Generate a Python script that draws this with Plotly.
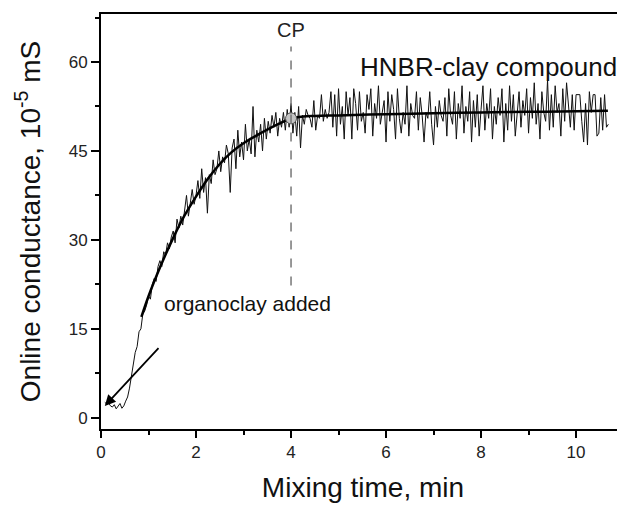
import numpy as np
import plotly.graph_objects as go

# raw online conductance signal (10^-5 mS), sampled every 0.04 min from 0.08 min
t_start = 0.08
t_step = 0.04
conductance = [
    # flat baseline before the clay kicks in
    2.6, 2.3, 2.5, 2.0, 1.8, 2.2, 1.5, 1.9, 2.4, 1.6, 2.0, 2.8, 3.5,
    # rise
    5.0, 7.0, 9.5, 11.0, 12.0, 14.5, 15.0, 17.5, 18.0, 19.0,
    20.5, 20.0, 22.5, 23.5, 23.0, 25.5, 26.5, 25.5, 28.0, 27.5,
    29.5, 28.5, 30.5, 31.5, 29.5, 33.5, 32.0, 34.0, 32.5, 35.5,
    37.5, 34.0, 36.0, 38.5, 36.0, 37.5, 40.0, 37.0, 42.0, 38.0,
    40.5, 34.5, 41.0, 39.5, 43.5, 41.0, 42.0, 45.0, 41.5, 44.0,
    43.0, 46.0, 44.5, 38.0, 45.5, 47.0, 42.0, 48.5, 44.0, 46.5,
    43.5, 49.5, 45.0, 47.0, 44.5, 52.5, 44.0, 48.5, 46.5, 49.5,
    45.0, 50.5, 47.0, 50.0, 48.0, 51.0, 49.0, 51.5, 47.5, 50.5,
    49.0, 51.5, 48.5, 52.0, 49.0, 53.0, 48.0, 51.5, 47.5, 52.5,
    45.5, 51.0, 49.5, 52.0, 51.0, 50.5,
    # plateau
    49.0, 53.5, 48.5, 51.0, 50.5, 54.5, 50.0, 52.0, 50.5, 51.5,
    55.0, 49.0, 54.5, 47.5, 55.5, 49.5, 52.5, 47.0, 55.0, 51.0,
    54.0, 47.0, 55.5, 53.0, 48.5, 55.0, 50.0, 51.5, 48.0, 54.5,
    52.0, 55.5, 47.5, 53.0, 50.5, 56.0, 49.5, 51.5, 53.5, 46.5,
    55.0, 50.0, 54.5, 52.0, 47.0, 55.5, 50.5, 48.0, 51.5, 49.5,
    56.0, 47.5, 53.0, 51.0, 50.5, 55.0, 48.5, 54.0, 51.0, 46.5,
    51.5, 50.5, 55.0, 49.5, 46.0, 52.5, 49.0, 53.5, 51.0, 50.0,
    54.0, 47.5, 55.5, 51.0, 49.5, 55.0, 47.0, 53.0, 50.5, 56.0,
    48.0, 52.5, 50.0, 55.0, 46.5, 53.5, 49.0, 54.5, 47.5, 52.0,
    56.0, 48.5, 53.0, 50.5, 55.5, 47.0, 52.5, 49.5, 54.0, 51.0,
    55.5, 46.5, 53.0, 48.5, 56.0, 50.0, 54.5, 47.5, 52.0, 55.0,
    49.0, 53.5, 51.0, 55.5, 48.0, 54.0, 50.5, 56.5, 49.5, 53.0,
    47.0, 55.0, 51.5, 50.0, 57.0, 48.5, 54.5, 49.0, 56.0, 51.5,
    53.0, 47.5, 55.5, 50.0, 56.5, 52.5, 49.0, 54.5, 48.5, 54.5,
    54.5, 54.5, 50.0, 46.5, 53.0, 46.0, 55.0, 51.5, 54.5, 54.5,
    47.5, 48.0, 54.0, 48.5, 54.5, 49.0, 49.5,
]
time_raw = t_start + t_step * np.arange(len(conductance))

# smooth fitted curve
fit_time = [0.85, 1.0, 1.25, 1.5, 1.75, 2.0, 2.25, 2.5, 2.75, 3.0, 3.25, 3.5,
            3.75, 4.0, 4.25, 4.5, 5.0, 6.0, 7.0, 8.0, 9.0, 10.0, 10.67]
fit_value = [17.0, 20.5, 25.5, 30.0, 34.0, 37.3, 40.3, 42.8, 44.8, 46.3, 47.5, 48.6,
             49.6, 50.5, 50.8, 50.9, 51.0, 51.2, 51.35, 51.5, 51.6, 51.7, 51.8]

cp_time = [4.0]
cp_value = [50.5]

font_family = "Arial, Liberation Sans, sans-serif"

fig = go.Figure()
fig.add_trace(go.Scatter(
    x=time_raw, y=conductance, mode="lines",
    line=dict(color="#111111", width=1), showlegend=False,
))
fig.add_trace(go.Scatter(
    x=fit_time, y=fit_value, mode="lines",
    line=dict(color="black", width=2.5, shape="spline"), showlegend=False,
))
fig.add_trace(go.Scatter(
    x=cp_time, y=cp_value, mode="markers",
    marker=dict(size=11, color="#c4c4c4", line=dict(color="#555555", width=1)),
    showlegend=False,
))

# dashed CP line
fig.add_shape(type="line", x0=4, x1=4, y0=22.3, y1=62.6, xref="x", yref="y",
              line=dict(color="#777777", width=1.5, dash="dash"))

fig.add_annotation(x=4, y=65.4, text="CP", showarrow=False,
                   font=dict(size=20, color="#222222"))
fig.add_annotation(x=8.15, y=59.2, text="HNBR-clay compound", showarrow=False,
                   font=dict(size=26, color="#111111"))
fig.add_annotation(x=1.28, y=19.2, text="organoclay added", showarrow=False,
                   xanchor="left", font=dict(size=21, color="#111111"))
fig.add_annotation(x=0.08, y=2.0, ax=1.24, ay=12.0, axref="x", ayref="y",
                   text="", showarrow=True, arrowhead=2, arrowsize=1.2,
                   arrowwidth=1.8, arrowcolor="black")

fig.update_xaxes(
    range=[0, 11.03], showline=True, linecolor="black", linewidth=2, mirror=True,
    ticks="outside", ticklen=7, tickwidth=2, tickcolor="black", dtick=2,
    minor=dict(dtick=1, ticks="outside", ticklen=4, tickwidth=2, tickcolor="black"),
    showgrid=False, zeroline=False, automargin=False,
    tickfont=dict(size=17, family=font_family, color="#222222"),
    title=dict(text="Mixing time, min", font=dict(size=28, family=font_family, color="#111111"),
               standoff=16),
)
fig.update_yaxes(
    range=[-1.9, 68.1], showline=True, linecolor="black", linewidth=2,
    ticks="outside", ticklen=8, tickwidth=2, tickcolor="black", dtick=15, tick0=0,
    minor=dict(dtick=7.5, ticks="outside", ticklen=4, tickwidth=2, tickcolor="black"),
    showgrid=False, zeroline=False, automargin=False,
    tickfont=dict(size=17, family=font_family, color="#222222"),
    title=dict(text="Online conductance, 10<sup>-5</sup> mS",
               font=dict(size=28, family=font_family, color="#111111"), standoff=20),
)
# page body has an 8px margin, so the figure is sized to fit inside the window
fig.update_layout(
    width=617, height=503,
    margin=dict(l=93, r=0, t=6, b=82),
    plot_bgcolor="white", paper_bgcolor="white",
    font=dict(family=font_family),
)

fig.write_html("out.html")
